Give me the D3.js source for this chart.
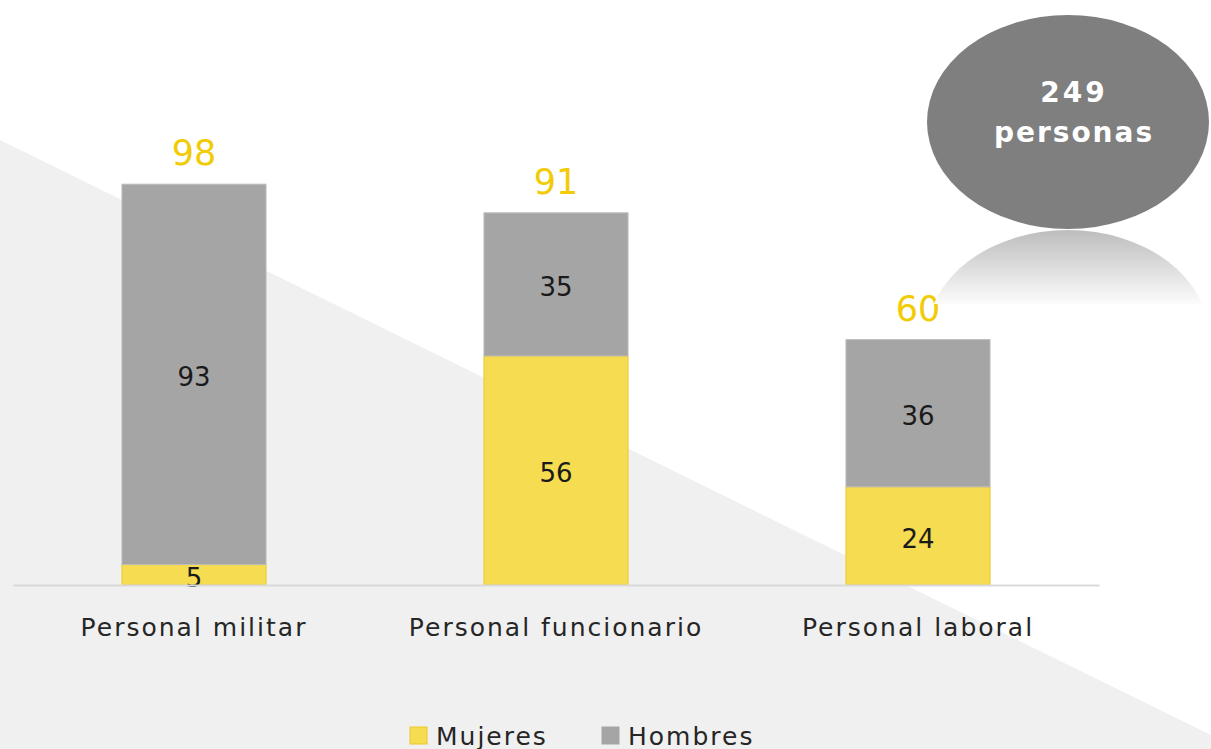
<!DOCTYPE html>
<html>
<head>
<meta charset="utf-8">
<script src="https://cdn.jsdelivr.net/npm/d3@7"></script>
<style>
  html, body { margin: 0; padding: 0; background: #ffffff; }
  svg { display: block; font-family: "DejaVu Sans", Verdana, sans-serif; }
</style>
</head>
<body>
<svg id="chart" width="1211" height="749"></svg>
<script>
// chart data
const categories = ["Personal militar", "Personal funcionario", "Personal laboral"];
const mujeres = [5, 56, 24];
const hombres = [93, 35, 36];
const seriesNames = ["Mujeres", "Hombres"];
const totalLabel = ["249", "personas"];

const width = 1211, height = 749;
const colors = { Mujeres: "#f5dc50", Hombres: "#a5a5a5" };

const svg = d3.select("#chart");

// light diagonal background
svg.append("path")
    .attr("d", `M0,140 L${width},735 L${width},${height} L0,${height} Z`)
    .attr("fill", "#f0f0f0");

// scales
const x = d3.scaleBand()
    .domain(categories)
    .range([13, 1099])
    .paddingInner(0.602)
    .paddingOuter(0.301);

const y = d3.scaleLinear()
    .domain([0, 100])
    .range([585, 176]);

const data = categories.map((c, i) => ({ cat: c, Mujeres: mujeres[i], Hombres: hombres[i] }));
const stacked = d3.stack().keys(seriesNames)(data);

// bars
const layers = svg.append("g").selectAll("g")
    .data(stacked)
    .join("g")
    .attr("fill", d => colors[d.key])
    .attr("stroke", d => d.key === "Mujeres" ? "#ecc82c" : "#bdbdbd")
    .attr("stroke-width", 1);

layers.selectAll("rect")
    .data(d => d)
    .join("rect")
    .attr("x", d => x(d.data.cat))
    .attr("y", d => y(d[1]))
    .attr("width", x.bandwidth())
    .attr("height", d => y(d[0]) - y(d[1]));

// segment labels
stacked.forEach(layer => {
    svg.append("g").selectAll("text")
        .data(layer)
        .join("text")
        .attr("x", d => x(d.data.cat) + x.bandwidth() / 2)
        .attr("y", d => (y(d[0]) + y(d[1])) / 2 + 3)
        .attr("text-anchor", "middle")
        .attr("dominant-baseline", "central")
        .attr("font-size", 26)
        .attr("fill", "#1a1a1a")
        .text(d => d[1] - d[0]);
});

// totals
svg.append("g").selectAll("text")
    .data(data)
    .join("text")
    .attr("x", d => x(d.cat) + x.bandwidth() / 2)
    .attr("y", d => y(d.Mujeres + d.Hombres) - 31)
    .attr("text-anchor", "middle")
    .attr("dominant-baseline", "central")
    .attr("font-size", 35)
    .attr("fill", "#f2cb05")
    .text(d => d.Mujeres + d.Hombres);

// x axis
const xAxis = svg.append("g")
    .attr("transform", "translate(0,585)")
    .call(d3.axisBottom(x).tickSize(0).tickPadding(33).tickSizeOuter(0));
xAxis.select(".domain").attr("stroke", "#d9d9d9").attr("stroke-width", 2);
xAxis.selectAll("text")
    .attr("font-family", "DejaVu Sans, Verdana, sans-serif")
    .attr("font-size", 25)
    .attr("letter-spacing", 2)
    .attr("fill", "#262626");

// legend
const legend = svg.append("g").attr("transform", "translate(410,735)");
const legendX = [0, 192];
seriesNames.forEach((s, i) => {
    const g = legend.append("g").attr("transform", `translate(${legendX[i]},0)`);
    g.append("rect")
        .attr("x", 0).attr("y", -8)
        .attr("width", 17).attr("height", 17)
        .attr("fill", colors[s])
        .attr("stroke", s === "Mujeres" ? "#ecc82c" : "#a5a5a5");
    g.append("text")
        .attr("x", 26).attr("y", 1)
        .attr("dominant-baseline", "central")
        .attr("font-size", 25)
        .attr("letter-spacing", 2)
        .attr("fill", "#262626")
        .text(s);
});

// bubble with reflection
const defs = svg.append("defs");
const grad = defs.append("linearGradient")
    .attr("id", "refl")
    .attr("gradientUnits", "userSpaceOnUse")
    .attr("x1", 0).attr("y1", 230).attr("x2", 0).attr("y2", 303);
grad.append("stop").attr("offset", "0%").attr("stop-color", "#bdbdbd");
grad.append("stop").attr("offset", "100%").attr("stop-color", "#fbfbfb");
defs.append("clipPath").attr("id", "reflClip")
    .append("rect").attr("x", 900).attr("y", 229).attr("width", 311).attr("height", 75);

svg.append("ellipse")
    .attr("cx", 1068).attr("cy", 337)
    .attr("rx", 141).attr("ry", 107)
    .attr("clip-path", "url(#reflClip)")
    .attr("fill", "url(#refl)");

svg.append("ellipse")
    .attr("cx", 1068).attr("cy", 122)
    .attr("rx", 141).attr("ry", 107)
    .attr("fill", "#7f7f7f");

svg.append("text")
    .attr("x", 1074).attr("y", 92)
    .attr("text-anchor", "middle")
    .attr("dominant-baseline", "central")
    .attr("font-size", 28)
    .attr("font-weight", "bold")
    .attr("letter-spacing", 3)
    .attr("fill", "#ffffff")
    .text(totalLabel[0]);
svg.append("text")
    .attr("x", 1074).attr("y", 132)
    .attr("text-anchor", "middle")
    .attr("dominant-baseline", "central")
    .attr("font-size", 28)
    .attr("font-weight", "bold")
    .attr("letter-spacing", 2)
    .attr("fill", "#ffffff")
    .text(totalLabel[1]);
</script>
</body>
</html>
